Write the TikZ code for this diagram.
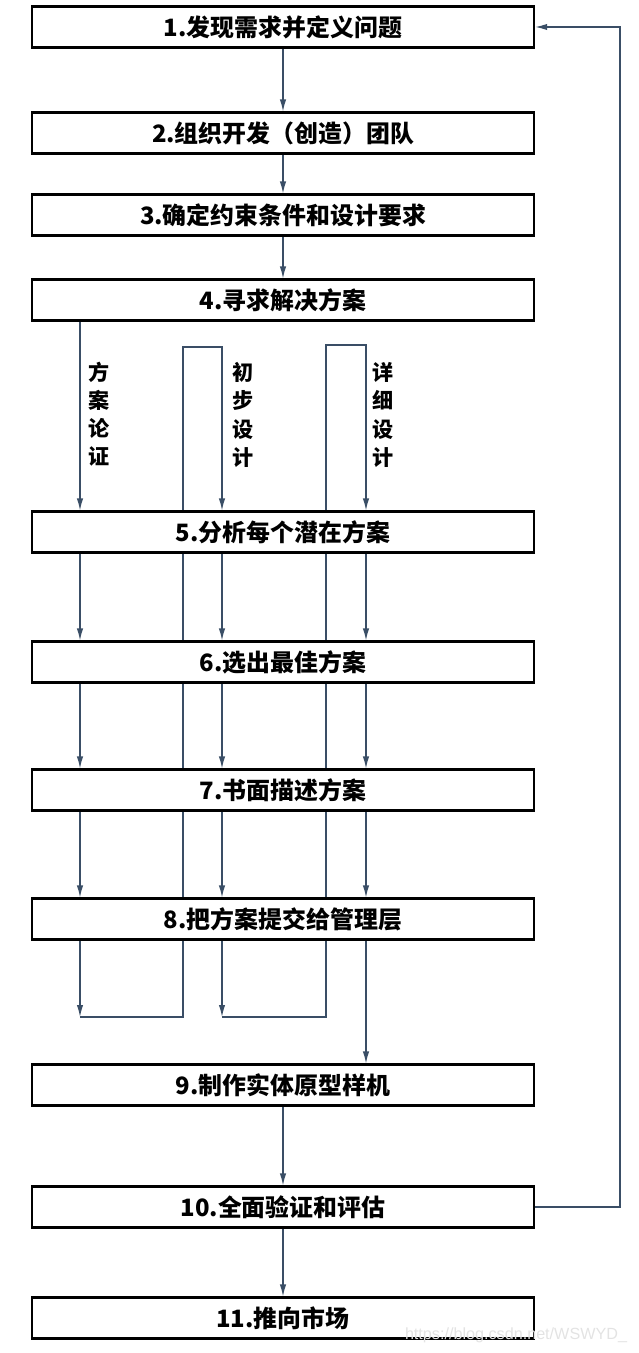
\documentclass[tikz,border=0pt]{standalone}
\usepackage{fontspec}
\setmainfont{Noto Sans CJK SC}
\newfontfamily\webfont{Liberation Sans}
\usetikzlibrary{arrows.meta,backgrounds}
\definecolor{linecol}{HTML}{3A4E66}
\begin{document}
\begin{tikzpicture}[x=0.025cm,y=-0.025cm,
    box/.style={draw=black,line width=1.6pt,fill=white,minimum width=12.55cm,
      minimum height=1.02cm,inner sep=0pt,font=\fontsize{17}{19}\selectfont\bfseries},
    flow/.style={draw=linecol,line width=0.9pt,-{Latex[length=3mm,width=1.6mm]}},
    tag/.style={align=center,inner sep=0pt,font=\fontsize{15}{20}\selectfont\bfseries}]
  \useasboundingbox (0,0) rectangle (638,1353);
  \node[box] (s1) at (283,27) {1.发现需求并定义问题};
  \node[box] (s2) at (283,133) {2.组织开发（创造）团队};
  \node[box] (s3) at (283,215) {3.确定约束条件和设计要求};
  \node[box] (s4) at (283,300) {4.寻求解决方案};
  \node[box] (s5) at (283,532) {5.分析每个潜在方案};
  \node[box] (s6) at (283,662) {6.选出最佳方案};
  \node[box] (s7) at (283,790) {7.书面描述方案};
  \node[box] (s8) at (283,919) {8.把方案提交给管理层};
  \node[box] (s9) at (283,1085) {9.制作实体原型样机};
  \node[box] (s10) at (283,1207) {10.全面验证和评估};
  \node[box] (s11) at (283,1318) {11.推向市场};
  \node[tag] (t1) at (99,414) {方\\案\\论\\证};
  \node[tag] (t2) at (243,415) {初\\步\\设\\计};
  \node[tag] (t3) at (383,415) {详\\细\\设\\计};
  \coordinate (ca) at (80,0);
  \coordinate (cb) at (222,0);
  \coordinate (cc) at (366,0);
  \coordinate (ta) at (183,347);
  \coordinate (tb) at (326,345);
  \coordinate (ba) at (80,1017);
  \coordinate (bb) at (222,1017);
  \coordinate (fb) at (620,600);
  \begin{scope}[on background layer]
    \draw[flow] (s1) -- (s2);
    \draw[flow] (s2) -- (s3);
    \draw[flow] (s3) -- (s4);
    \draw[flow] (s4.south -| ca) -- (s5.north -| ca);
    \draw[flow] (s5.south -| ca) -- (s6.north -| ca);
    \draw[flow] (s5.south -| cb) -- (s6.north -| cb);
    \draw[flow] (s5.south -| cc) -- (s6.north -| cc);
    \draw[flow] (s6.south -| ca) -- (s7.north -| ca);
    \draw[flow] (s6.south -| cb) -- (s7.north -| cb);
    \draw[flow] (s6.south -| cc) -- (s7.north -| cc);
    \draw[flow] (s7.south -| ca) -- (s8.north -| ca);
    \draw[flow] (s7.south -| cb) -- (s8.north -| cb);
    \draw[flow] (s7.south -| cc) -- (s8.north -| cc);
    \draw[flow] (s8.south -| ca) -- (ba);
    \draw[flow] (s8.south -| cb) -- (bb);
    \draw[flow] (s8.south -| cc) -- (s9.north -| cc);
    % loops back to step 5
    \draw[flow] (ba) -| (ta) -| (s5.north -| cb);
    \draw[flow] (bb) -| (tb) -| (s5.north -| cc);
    \draw[flow] (s9) -- (s10);
    \draw[flow] (s10) -- (s11);
    % feedback to step 1
    \draw[flow] (s10.east) -| (fb) |- (s1.east);
  \end{scope}
  \node[text=gray!22,font=\webfont\fontsize{11.5}{12}\selectfont] (wm) at (516,1335) {https://blog.csdn.net/WSWYD\_};
\end{tikzpicture}
\end{document}
